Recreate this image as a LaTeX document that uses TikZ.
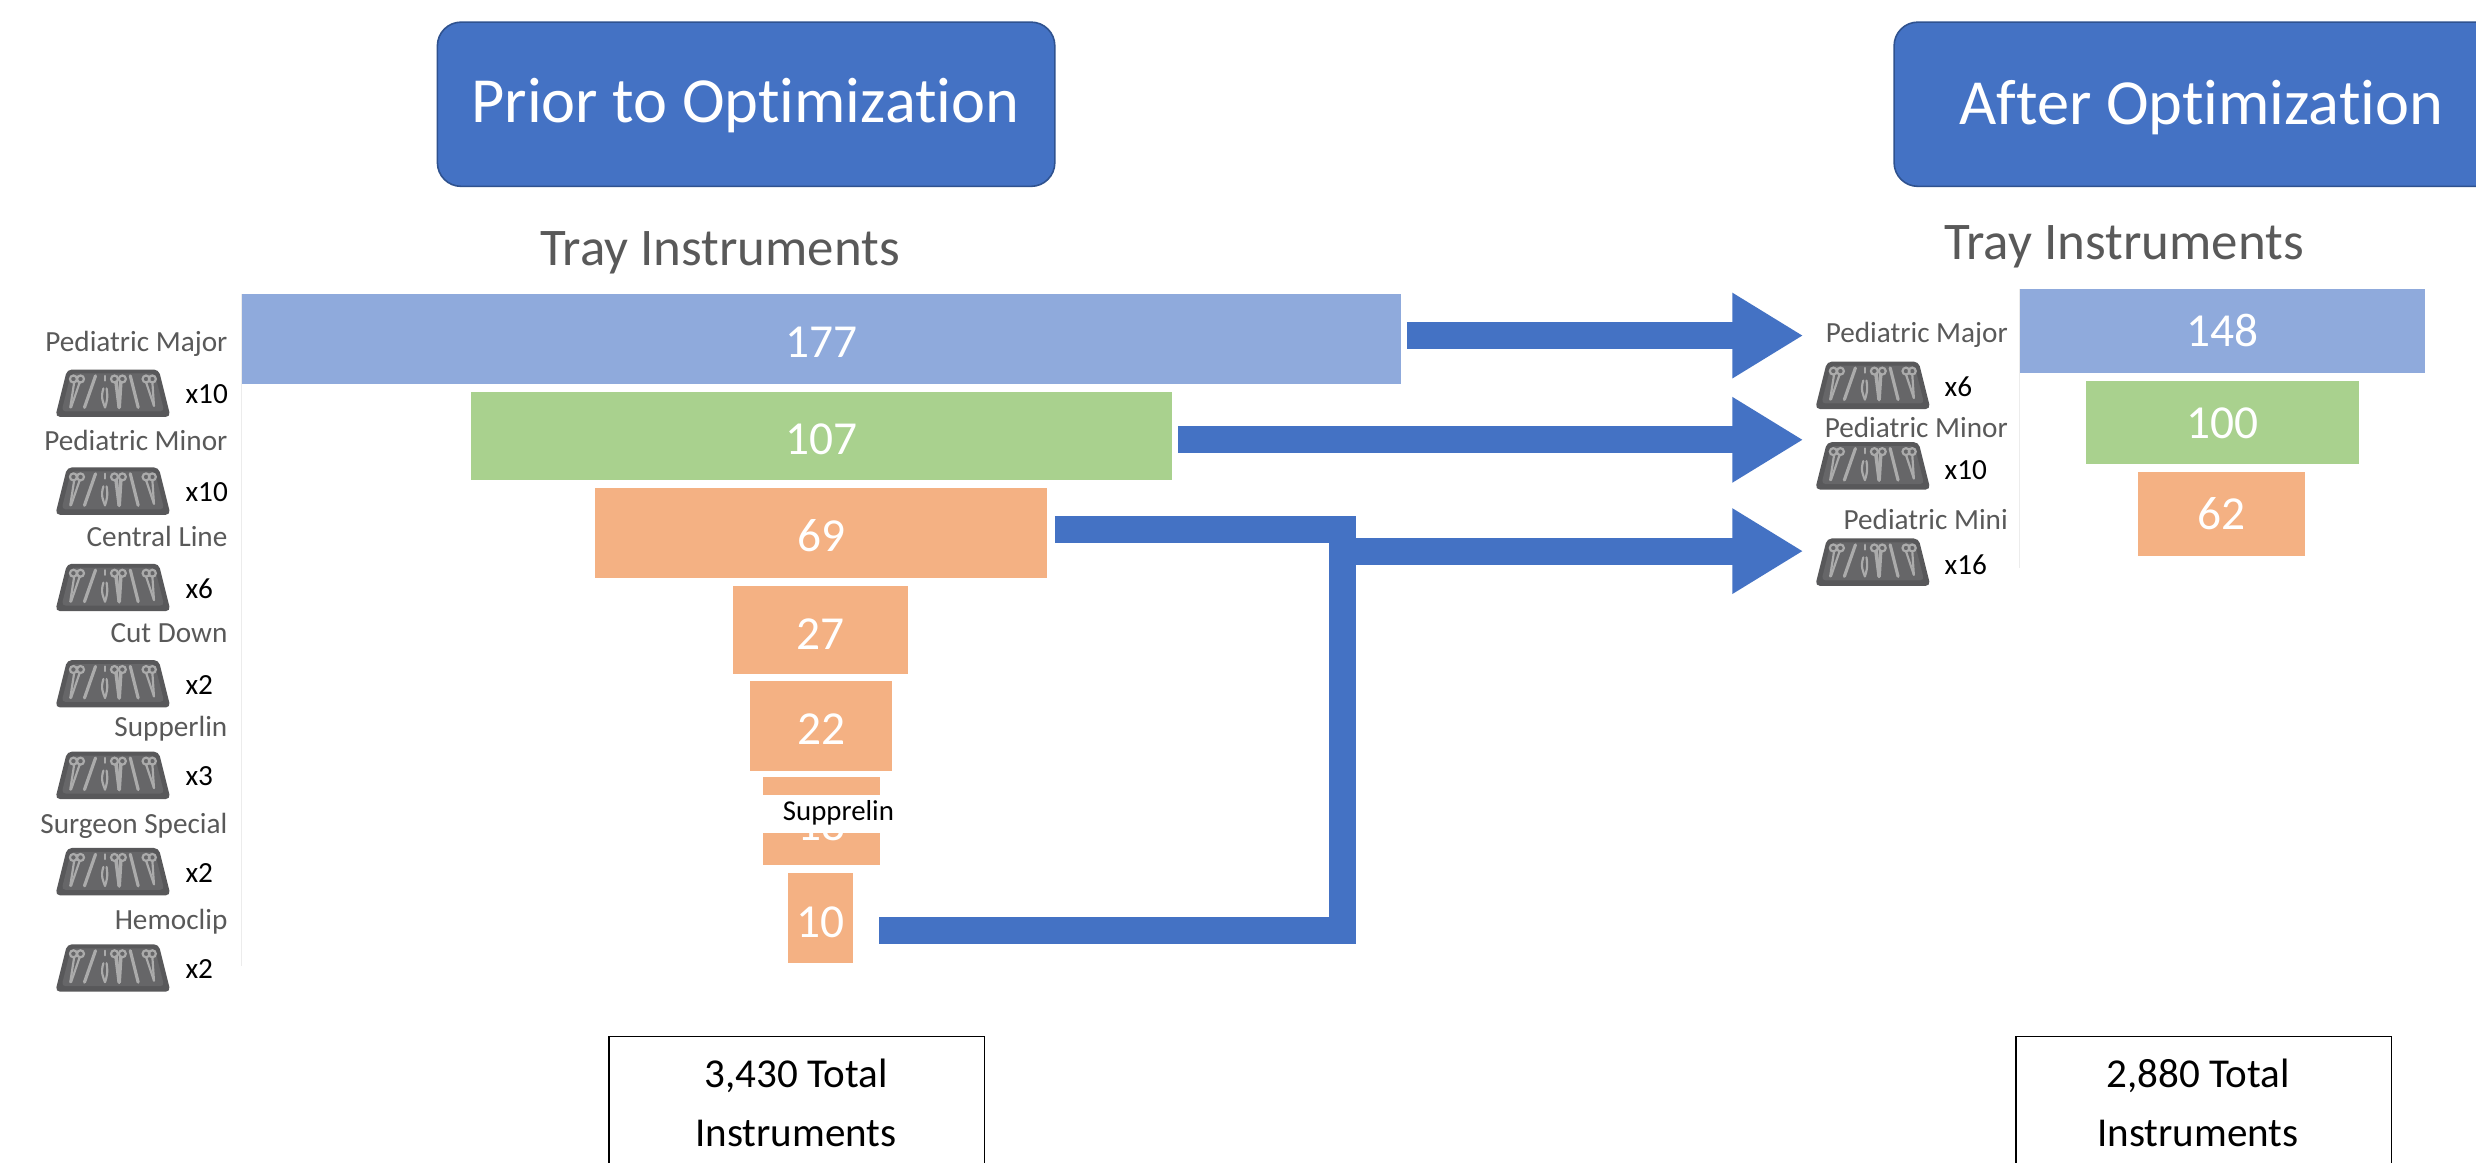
\documentclass[tikz,border=0pt]{standalone}
\usepackage{fontspec}
\setmainfont{Carlito}[Ligatures=NoCommon]
\usetikzlibrary{arrows.meta}
\definecolor{hdrblue}{HTML}{4472C4}
\definecolor{hdredge}{HTML}{2F528F}
\definecolor{barblue}{HTML}{8FAADC}
\definecolor{bargreen}{HTML}{A9D18E}
\definecolor{barorange}{HTML}{F4B183}
\definecolor{txtgray}{HTML}{595959}
\definecolor{traygray}{HTML}{58585A}
\definecolor{trayface}{HTML}{666668}
\definecolor{toolgray}{HTML}{ABABAB}
\definecolor{axisgray}{HTML}{ECECEC}
\newcommand{\uu}{0.4pt}
\newcommand{\barth}{9.6pt}
\tikzset{
  x=0.4pt,y=-0.4pt,
  hdrbox/.style={draw=hdredge,line width=0.4pt,fill=hdrblue,rounded corners=6pt,inner sep=0pt},
  hdrtext/.style={text=white,font=\fontsize{16.3}{18}\selectfont,inner sep=0pt},
  titletext/.style={text=txtgray,font=\fontsize{13.4}{15}\selectfont,inner sep=0pt},
  barbox/.style={draw=none,text=white,font=\fontsize{12}{13}\selectfont,inner sep=0pt,outer sep=0pt,text depth=0pt},
  catlabel/.style={text=txtgray,font=\fontsize{7.4}{8}\selectfont,inner sep=0pt,anchor=east,yshift=-0.7pt},
  countlabel/.style={text=black,font=\fontsize{7.4}{8}\selectfont,inner sep=0pt,anchor=west,yshift=-0.3pt},
  totalbox/.style={draw=black,line width=0.4pt,fill=white,inner sep=0pt,minimum width=238*\uu,minimum height=120*\uu},
  totaltext/.style={text=black,font=\fontsize{10.4}{12}\selectfont,inner sep=0pt},
  blockline/.style={draw=hdrblue,line width=6.8pt,line cap=butt,line join=miter},
  blockarrow/.style={blockline,-{Triangle[length=18pt,width=20.4pt]}},
  tray/.pic={
    \fill[traygray,rounded corners=1.2pt] (-29,-15) -- (29,-15) -- (36.5,15) -- (-36.5,15) -- cycle;
    \fill[trayface,rounded corners=1pt] (-26.5,-12.5) -- (26.5,-12.5) -- (32.5,11.5) -- (-32.5,11.5) -- cycle;
    \begin{scope}[draw=toolgray,line width=0.55pt,line cap=round]
      \draw (-25,-9) circle (2.2);
      \draw (-24.5,-7) -- (-27,9);
      \draw (-20.5,-9) circle (2.2);
      \draw (-21,-7) -- (-26.5,9);
      \draw[line width=0.8pt] (-11,-11) -- (-18,9);
      \draw (-5,-11) -- (-5,-8);
      \draw (-6,-3) .. controls (-8,3) and (-6,6) .. (-5,9);
      \draw (-4,-3) .. controls (-3,3) and (-4,6) .. (-5,9);
      \draw (1,-9) circle (2.2);
      \draw (6,-9) circle (2.2);
      \draw[line width=0.9pt] (2,-7) -- (4,9);
      \draw[line width=0.9pt] (5,-7) -- (4,9);
      \draw[line width=0.8pt] (11,-11) -- (16,9);
      \draw (21,-9) circle (2.2);
      \draw (25,-9) circle (2.2);
      \draw (21,-7) -- (26,8);
      \draw (25,-7) -- (26,8);
    \end{scope}
  }
}
\newcommand{\barnode}[7]{%
  \node[barbox,fill=#6,text height=\barth,minimum width=(#4-#2)*0.4pt,minimum height=(#5-#3)*0.4pt] (#1) at ({(#2+#4)/2},{(#3+#5)/2}) {#7};}
\begin{document}
\begin{tikzpicture}
\useasboundingbox (0,0) rectangle (1568,735.9);
\clip (0,0) rectangle (1568,735.9);
\fill[white] (0,0) rectangle (1568,735.9);

% headers
\node[hdrbox,minimum width=391*\uu,minimum height=104*\uu] (hdrL) at (472.5,66) {};
\node[hdrtext] (hdrLt) at (472,67) {Prior to Optimization};
\node[hdrbox,minimum width=391*\uu,minimum height=104*\uu,anchor=west] (hdrR) at (1199,66) {};
\node[hdrtext] (hdrRt) at (1394,68) {After Optimization};
\node[titletext] (titleL) at (456,160) {Tray Instruments};
\node[titletext] (titleR) at (1345,156) {Tray Instruments};

% axis lines
\coordinate (axLt) at (153,186);
\coordinate (axLb) at (153,612);
\coordinate (axRt) at (1279,183);
\coordinate (axRb) at (1279,360);
\draw[axisgray,line width=0.4pt] (axLt) -- (axLb);
\draw[axisgray,line width=0.4pt] (axRt) -- (axRb);

% left bars
\barnode{a1}{153}{186}{887}{243}{barblue}{177}
\barnode{a2}{298}{248}{742}{304}{bargreen}{107}
\barnode{a3}{377}{309}{663}{366}{barorange}{69}
\barnode{a4}{464}{371}{575}{427}{barorange}{27}
\barnode{a5}{475}{431}{565}{488}{barorange}{22}
\barnode{a6}{483}{492}{557}{548}{barorange}{18}
\barnode{a7}{499}{553}{540}{610}{barorange}{10}
% white label over bar
\node[fill=white,inner sep=0pt,minimum width=90*\uu,minimum height=23.5*\uu] (supcover) at (528,515.5) {};
\node[text=black,font=\fontsize{7.3}{8}\selectfont,inner sep=0pt] (suptext) at (531,515) {Supprelin};

% right bars
\renewcommand{\barth}{8pt}
\barnode{b1}{1279}{183}{1536}{236}{barblue}{148}
\barnode{b2}{1321}{241}{1494}{294}{bargreen}{100}
\barnode{b3}{1354}{299}{1460}{352}{barorange}{62}

% left labels and trays
\foreach \nm/\lab/\ly/\ty/\cnt in {
  l1/Pediatric Major/216/249/x10,
  l2/Pediatric Minor/277/311/x10,
  l3/Central Line/338/372/x6,
  l4/Cut Down/399/433/x2,
  l5/Supperlin/460/491/x3,
  l6/Surgeon Special/521/552/x2,
  l7/Hemoclip/582/613/x2}{
  \node[catlabel] (\nm) at (144.5,\ly) {\lab};
  \pic at (71.5,\ty) {tray};
  \node[countlabel] (\nm c) at (117,\ty) {\cnt};
}
% right labels and trays
\foreach \nm/\lab/\ly/\ty/\cty/\cnt in {
  r1/Pediatric Major/210/244/244/x6,
  r2/Pediatric Minor/269/295/297/x10,
  r3/Pediatric Mini/327/356/357/x16}{
  \node[catlabel] (\nm) at (1272,\ly) {\lab};
  \pic at (1186,\ty) {tray};
  \node[countlabel] (\nm c) at (1231,\cty) {\cnt};
}

% connectors
\coordinate (tip1) at (1142,212.5);
\coordinate (tip2) at (1142,278.5);
\coordinate (tip3) at (1142,349);
\coordinate (vx) at (850,0);
\coordinate (s3) at ([shift={(5*\uu,2*\uu)}]a3.east);
\coordinate (s7) at ([shift={(16.5*\uu,-8*\uu)}]a7.east);
\draw[blockarrow] ([xshift=4*\uu]a1.east |- tip1) -- (tip1);
\draw[blockarrow] ([xshift=4*\uu]a2.east |- tip2) -- (tip2);
\draw[blockline] (s3) -- (vx |- s3) -- (vx |- s7) -- (s7);
\draw[blockarrow] (vx |- tip3) -- (tip3);

% totals
\node[totalbox,anchor=north west] (totL) at (385,656) {};
\node[totalbox,anchor=north west] (totR) at (1276,656) {};
\node[totaltext] (totL1) at (504,681) {3,430 Total};
\node[totaltext] (totL2) at (504,718) {Instruments};
\node[totaltext] (totR1) at (1392,681) {2,880 Total};
\node[totaltext] (totR2) at (1392,718) {Instruments};
\end{tikzpicture}
\end{document}
